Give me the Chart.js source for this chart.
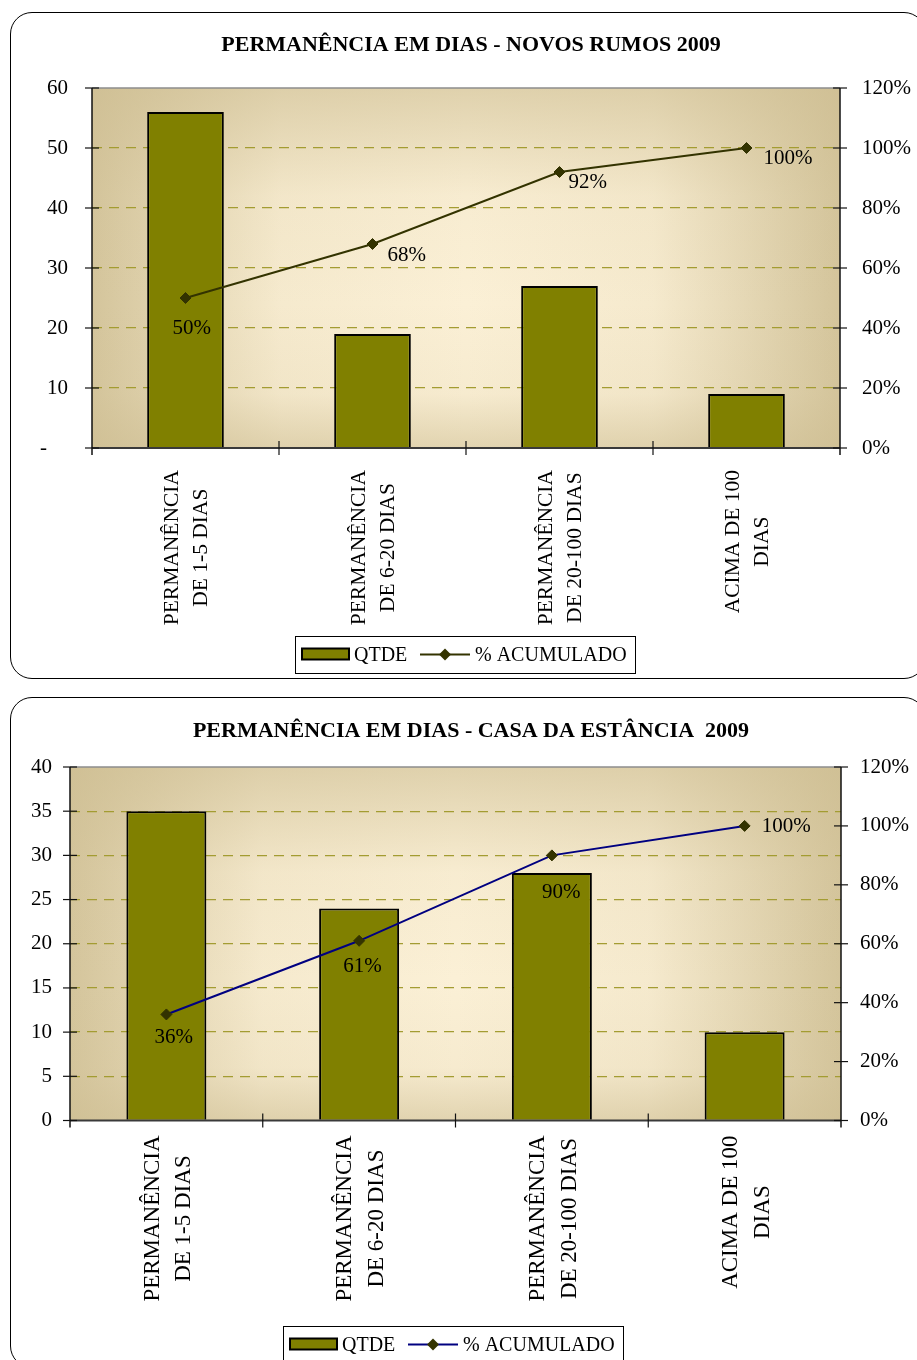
<!DOCTYPE html>
<html><head><meta charset="utf-8">
<script src="https://cdn.jsdelivr.net/npm/chart.js@4.4.1/dist/chart.umd.min.js"></script>
<style>
html,body{margin:0;padding:0;background:#fff;width:917px;height:1360px;overflow:hidden;position:relative}
.frame{position:absolute;border:1.5px solid #000;border-radius:22px;box-sizing:border-box}
#f1{left:10px;top:12px;width:916px;height:667px}
#f2{left:10px;top:697px;width:916px;height:671px}
.wrap{position:absolute;left:0;width:917px}
#w1{top:0;height:690px}
#w2{top:690px;height:670px}
canvas{display:block}
</style></head>
<body>
<div class="frame" id="f1"></div><div class="frame" id="f2"></div>
<div class="wrap" id="w1"><canvas id="c1" width="917" height="690"></canvas></div>
<div class="wrap" id="w2"><canvas id="c2" width="917" height="670"></canvas></div>
<script>
// ---------------- DATA ----------------
const categories = [
  ["PERMANÊNCIA", "DE 1-5 DIAS"],
  ["PERMANÊNCIA", "DE 6-20 DIAS"],
  ["PERMANÊNCIA", "DE 20-100 DIAS"],
  ["ACIMA DE 100", "DIAS"]
];
const seriesBarLabel = "QTDE";
const seriesLineLabel = "% ACUMULADO";

const title1 = "PERMANÊNCIA EM DIAS - NOVOS RUMOS 2009";
const qtde1 = [56, 19, 27, 9];
const acumulado1 = [50, 68, 92, 100];
const leftTicks1 = [0, 10, 20, 30, 40, 50, 60];

const title2 = "PERMANÊNCIA EM DIAS - CASA DA ESTÂNCIA  2009";
const qtde2 = [35, 24, 28, 10];
const acumulado2 = [36, 61, 90, 100];
const leftTicks2 = [0, 5, 10, 15, 20, 25, 30, 35, 40];

const rightTicks = [0, 20, 40, 60, 80, 100, 120];

// ---------------- STYLE ----------------
const FONT = '"Liberation Serif", "Times New Roman", serif';
const BAR_COLOR = '#808000';
const MARKER_COLOR = '#333300';
const GRID_COLOR = '#a39c32';

const style1 = {
  lineColor: '#333300',
  area: {top: 88, bottom: 448, left: 92, right: 840},
  canvasH: 690, canvasW: 917,
  leftPad: 24, rightPad: 22, tickFont: 21,
  zeroLabel: '-    ',
  titleX: 471, titleY: 45, titleFont: 22,
  xFont: 21.5, xGap: 22, xBase0: -7.5, xLine: 29,
  labelOffsets: [[-13, 30], [15, 11], [9, 10], [17, 10]],
  legend: {x: 295, y: 636, w: 340, h: 37},
  barPct: 0.41
};
const style2 = {
  lineColor: '#000080',
  area: {top: 77, bottom: 430.5, left: 70, right: 841},
  canvasH: 670, canvasW: 917,
  leftPad: 18, rightPad: 19, tickFont: 21,
  zeroLabel: '0',
  titleX: 471, titleY: 41, titleFont: 22,
  xFont: 23, xGap: 15, xBase0: -7.7, xLine: 31.7,
  labelOffsets: [[-12, 23], [-16, 26], [-10, 37], [17, 1]],
  legend: {x: 283, y: 636, w: 340, h: 37},
  barPct: 0.415
};

function makeChart(canvasId, title, qtde, acum, leftTicks, st) {
  const leftMax = leftTicks[leftTicks.length - 1];
  const leftStep = leftTicks[1] - leftTicks[0];
  const rMax = rightTicks[rightTicks.length - 1];
  const rStep = rightTicks[1] - rightTicks[0];

  const deco = {
    id: 'deco',
    beforeDraw(chart) {
      const ctx = chart.ctx;
      const {left, top, right, bottom} = chart.chartArea;
      const w = right - left, h = bottom - top;
      ctx.save();
      ctx.fillStyle = '#fbf0d6';
      ctx.fillRect(left, top, w, h);
      const tan = a => 'rgba(205,189,145,' + a + ')';
      let g = ctx.createLinearGradient(left, 0, right, 0);
      g.addColorStop(0, tan(0.85));
      g.addColorStop(0.25, tan(0.12));
      g.addColorStop(0.5, tan(0));
      g.addColorStop(0.75, tan(0.12));
      g.addColorStop(1, tan(0.85));
      ctx.fillStyle = g; ctx.fillRect(left, top, w, h);
      g = ctx.createLinearGradient(0, top, 0, bottom);
      g.addColorStop(0, tan(0.6));
      g.addColorStop(0.3, tan(0.08));
      g.addColorStop(0.6, tan(0));
      g.addColorStop(0.85, tan(0.1));
      g.addColorStop(1, tan(0.55));
      ctx.fillStyle = g; ctx.fillRect(left, top, w, h);
      ctx.restore();
    },
    afterDatasetsDraw(chart) {
      const ctx = chart.ctx;
      const {left, top, right, bottom} = chart.chartArea;
      const ys = chart.scales.y, y1 = chart.scales.y1, xs = chart.scales.x;
      ctx.save();
      ctx.strokeStyle = '#8c8c8c'; ctx.lineWidth = 1.5;
      ctx.beginPath(); ctx.moveTo(left, top); ctx.lineTo(right, top); ctx.stroke();
      ctx.strokeStyle = '#3a3a3a'; ctx.lineWidth = 2;
      ctx.beginPath(); ctx.moveTo(left, bottom); ctx.lineTo(right, bottom); ctx.stroke();
      ctx.strokeStyle = '#111'; ctx.lineWidth = 1.5;
      ctx.beginPath(); ctx.moveTo(left, top); ctx.lineTo(left, bottom + 7); ctx.stroke();
      ctx.beginPath(); ctx.moveTo(right, top); ctx.lineTo(right, bottom + 7); ctx.stroke();
      ctx.lineWidth = 1.2;
      ys.ticks.forEach(t => {
        const y = ys.getPixelForValue(t.value);
        ctx.beginPath(); ctx.moveTo(left - 7, y); ctx.lineTo(left + 7, y); ctx.stroke();
      });
      y1.ticks.forEach(t => {
        const y = y1.getPixelForValue(t.value);
        ctx.beginPath(); ctx.moveTo(right - 7, y); ctx.lineTo(right + 7, y); ctx.stroke();
      });
      const n = categories.length;
      for (let i = 1; i < n; i++) {
        const x = (xs.getPixelForValue(i - 1) + xs.getPixelForValue(i)) / 2;
        ctx.beginPath(); ctx.moveTo(x, bottom - 7); ctx.lineTo(x, bottom + 7); ctx.stroke();
      }
      const meta = chart.getDatasetMeta(1);
      ctx.fillStyle = '#000';
      ctx.font = '21px ' + FONT;
      ctx.textAlign = 'left'; ctx.textBaseline = 'middle';
      meta.data.forEach((el, i) => {
        const o = st.labelOffsets[i];
        ctx.fillText(acum[i] + '%', el.x + o[0], el.y + o[1]);
      });
      ctx.restore();
    },
    afterDraw(chart) {
      const ctx = chart.ctx;
      const {bottom} = chart.chartArea;
      const xs = chart.scales.x;
      ctx.save();
      ctx.fillStyle = '#000';
      ctx.font = 'bold ' + st.titleFont + 'px ' + FONT;
      ctx.textAlign = 'center'; ctx.textBaseline = 'middle';
      ctx.fillText(title, st.titleX, st.titleY);
      ctx.font = st.xFont + 'px ' + FONT;
      categories.forEach((lines, i) => {
        const cx = xs.getPixelForValue(i);
        const maxW = Math.max(...lines.map(l => ctx.measureText(l).width));
        const cy = bottom + st.xGap + maxW / 2;
        lines.forEach((line, j) => {
          const bx = cx + st.xBase0 + j * st.xLine;
          ctx.save();
          ctx.translate(bx, cy);
          ctx.rotate(-Math.PI / 2);
          ctx.textAlign = 'center'; ctx.textBaseline = 'alphabetic';
          ctx.fillText(line, 0, 0);
          ctx.restore();
        });
      });
      const L = st.legend;
      const ds = chart.data.datasets;
      ctx.fillStyle = '#fff'; ctx.fillRect(L.x, L.y, L.w, L.h);
      ctx.strokeStyle = '#000'; ctx.lineWidth = 1;
      ctx.strokeRect(L.x + 0.5, L.y + 0.5, L.w, L.h);
      const cy = L.y + L.h / 2;
      ctx.fillStyle = ds[0].backgroundColor;
      ctx.fillRect(L.x + 7, cy - 6, 47, 11);
      ctx.lineWidth = 2; ctx.strokeStyle = '#000';
      ctx.strokeRect(L.x + 7, cy - 6, 47, 11);
      ctx.fillStyle = '#000';
      ctx.font = '20px ' + FONT;
      ctx.textAlign = 'left'; ctx.textBaseline = 'middle';
      ctx.fillText(ds[0].label, L.x + 59, cy + 1);
      ctx.strokeStyle = ds[1].borderColor; ctx.lineWidth = 2;
      ctx.beginPath(); ctx.moveTo(L.x + 125, cy); ctx.lineTo(L.x + 175, cy); ctx.stroke();
      ctx.fillStyle = MARKER_COLOR;
      ctx.beginPath();
      ctx.moveTo(L.x + 150 - 6, cy); ctx.lineTo(L.x + 150, cy - 6);
      ctx.lineTo(L.x + 150 + 6, cy); ctx.lineTo(L.x + 150, cy + 6); ctx.closePath(); ctx.fill();
      ctx.fillStyle = '#000';
      ctx.fillText(ds[1].label, L.x + 180, cy + 1);
      ctx.restore();
    }
  };

  return new Chart(document.getElementById(canvasId), {
    type: 'bar',
    data: {
      labels: categories.map(c => c.join(' ')),
      datasets: [
        {
          type: 'bar', label: seriesBarLabel, data: qtde, yAxisID: 'y', order: 1,
          backgroundColor: BAR_COLOR, borderColor: '#000', borderWidth: 2,
          barPercentage: st.barPct, categoryPercentage: 1
        },
        {
          type: 'line', label: seriesLineLabel, data: acum, yAxisID: 'y1', order: 0,
          borderColor: st.lineColor, borderWidth: 2, tension: 0, fill: false,
          pointStyle: 'rectRot', pointRadius: 5.5, pointBorderWidth: 1,
          pointBackgroundColor: MARKER_COLOR, pointBorderColor: MARKER_COLOR
        }
      ]
    },
    options: {
      responsive: false,
      animation: false,
      layout: {padding: {top: st.area.top, left: 0, right: 0, bottom: 0}},
      plugins: {legend: {display: false}, title: {display: false}, tooltip: {enabled: false}},
      scales: {
        x: {
          offset: true,
          ticks: {display: false},
          grid: {display: false, drawTicks: false},
          border: {display: false},
          afterFit: s => { s.height = st.canvasH - st.area.bottom; }
        },
        y: {
          position: 'left', min: 0, max: leftMax,
          ticks: {
            stepSize: leftStep, padding: st.leftPad, color: '#000',
            font: {family: FONT, size: st.tickFont},
            callback: v => v === 0 ? st.zeroLabel : String(v)
          },
          grid: {
            drawTicks: false, lineWidth: 1.3,
            color: c => (c.tick.value === 0 || c.tick.value === leftMax) ? 'rgba(0,0,0,0)' : GRID_COLOR
          },
          border: {display: false, dash: [10, 7]},
          afterFit: s => { s.width = st.area.left; }
        },
        y1: {
          position: 'right', min: 0, max: rMax,
          ticks: {
            stepSize: rStep, padding: st.rightPad, color: '#000',
            font: {family: FONT, size: st.tickFont},
            callback: v => v + '%'
          },
          grid: {display: false, drawTicks: false},
          border: {display: false},
          afterFit: s => { s.width = st.canvasW - st.area.right; }
        }
      }
    },
    plugins: [deco]
  });
}

makeChart('c1', title1, qtde1, acumulado1, leftTicks1, style1);
makeChart('c2', title2, qtde2, acumulado2, leftTicks2, style2);
</script>
</body></html>
